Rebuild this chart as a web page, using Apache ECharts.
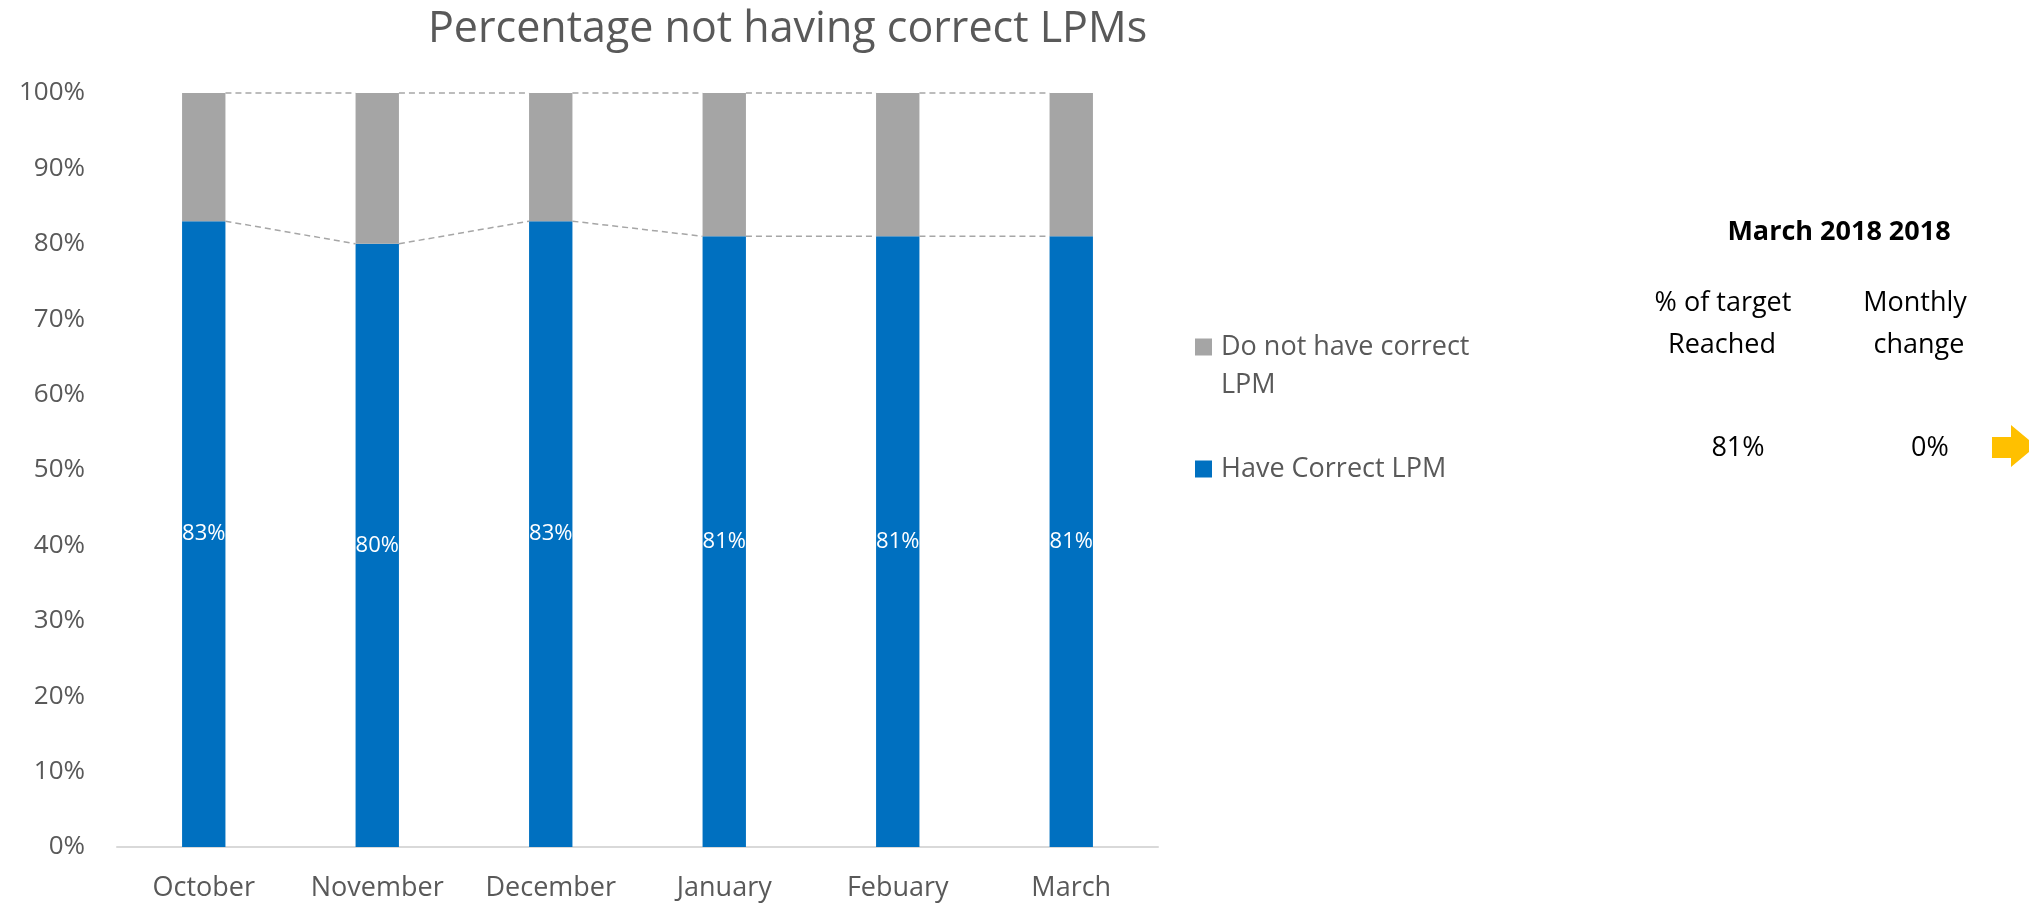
<!DOCTYPE html>
<html style="height: 100%">

<head>
  <meta charset="utf-8">
</head>

<body style="height: 100%; margin: 0; background: #fff">
  <div id="container" style="height: 100%"></div>
  <script type="text/javascript" src="https://cdn.jsdelivr.net/npm/echarts@6/dist/echarts.min.js"></script>
  <script type="text/javascript">
  var dom = document.getElementById("container");
  var myChart = echarts.init(dom);

  // data
  var months = ['October', 'November', 'December', 'January', 'Febuary', 'March'];
  var haveCorrect = [83, 80, 83, 81, 81, 81];
  var notCorrect = [17, 20, 17, 19, 19, 19];
  var yTicks = [0, 10, 20, 30, 40, 50, 60, 70, 80, 90, 100];
  var summaryTitle = 'March 2018 2018';

  var FONT = '"Open Sans", sans-serif';
  var GREY_TEXT = '#595959';

  // series lines between bar tops (Excel style)
  var seriesLines = [];
  for (var i = 0; i < months.length - 1; i++) {
    seriesLines.push([
      i,
      haveCorrect[i], haveCorrect[i + 1],
      haveCorrect[i] + notCorrect[i], haveCorrect[i + 1] + notCorrect[i + 1]
    ]);
  }

  var last = haveCorrect[haveCorrect.length - 1];
  var change = last - haveCorrect[haveCorrect.length - 2];

  function renderSeriesLines(params, api) {
    var i = api.value(0);
    var half = api.size([1, 0])[0] * 0.125;
    var children = [];
    [[1, 2], [3, 4]].forEach(function (pair) {
      var a = api.coord([i, api.value(pair[0])]);
      var b = api.coord([i + 1, api.value(pair[1])]);
      children.push({
        type: 'line',
        shape: { x1: a[0] + half, y1: a[1], x2: b[0] - half, y2: b[1] },
        style: { stroke: '#A6A6A6', lineWidth: 1.5, lineDash: [6, 4] }
      });
    });
    return { type: 'group', children: children };
  }

  function centerText(x, y, text, opts) {
    return {
      type: 'text',
      x: x,
      y: y,
      style: Object.assign({
        text: text,
        fontFamily: FONT,
        fontSize: 27,
        fill: '#000',
        textAlign: 'center',
        textVerticalAlign: 'middle'
      }, opts || {})
    };
  }

  var option = {
    animation: false,
    title: {
      text: 'Percentage not having correct LPMs',
      left: 428,
      top: 8,
      padding: 0,
      textStyle: {
        fontFamily: FONT,
        fontSize: 43,
        lineHeight: 43,
        fontWeight: 'normal',
        color: GREY_TEXT
      }
    },
    legend: {
      orient: 'vertical',
      left: 1195,
      top: 290,
      padding: 0,
      itemWidth: 17,
      itemHeight: 17,
      itemGap: 46,
      icon: 'rect',
      selectedMode: false,
      textStyle: {
        fontFamily: FONT,
        fontSize: 27,
        lineHeight: 38,
        color: GREY_TEXT,
        padding: [0, 0, 0, 4]
      },
      // wrap the long name like the original; the blank line keeps the marker on the first line
      formatter: function (name) {
        return name === 'Do not have correct LPM' ? '\nDo not have correct\nLPM' : name;
      },
      data: ['Do not have correct LPM', 'Have Correct LPM']
    },
    grid: {
      left: 117,
      right: 871,
      top: 93,
      bottom: 56,
      containLabel: false
    },
    xAxis: {
      type: 'category',
      data: months,
      axisTick: { show: false },
      axisLine: { lineStyle: { color: '#D9D9D9', width: 2 } },
      axisLabel: {
        fontFamily: FONT,
        fontSize: 27,
        lineHeight: 27,
        color: GREY_TEXT,
        margin: 28
      }
    },
    yAxis: {
      type: 'value',
      min: yTicks[0],
      max: yTicks[yTicks.length - 1],
      interval: yTicks[1] - yTicks[0],
      axisLine: { show: false },
      axisTick: { show: false },
      splitLine: { show: false },
      axisLabel: {
        fontFamily: FONT,
        fontSize: 26,
        color: GREY_TEXT,
        margin: 32,
        formatter: '{value}%'
      }
    },
    series: [
      {
        name: 'Have Correct LPM',
        type: 'bar',
        stack: 'total',
        barWidth: '25%',
        data: haveCorrect,
        itemStyle: { color: '#0070C0' },
        label: {
          show: true,
          position: 'inside',
          color: '#fff',
          fontFamily: FONT,
          fontSize: 22,
          formatter: '{c}%'
        }
      },
      {
        name: 'Do not have correct LPM',
        type: 'bar',
        stack: 'total',
        barWidth: '25%',
        data: notCorrect,
        itemStyle: { color: '#A5A5A5' }
      },
      {
        type: 'custom',
        silent: true,
        renderItem: renderSeriesLines,
        encode: { x: 0, y: [1, 2, 3, 4] },
        data: seriesLines,
        z: 3
      }
    ],
    graphic: [
      centerText(1839, 232, summaryTitle, { fontWeight: 'bold' }),
      centerText(1723, 303, '% of target'),
      centerText(1722, 345, 'Reached'),
      centerText(1915, 303, 'Monthly'),
      centerText(1919, 345, 'change'),
      centerText(1738, 448, last + '%'),
      centerText(1930, 448, change + '%'),
      {
        type: 'polygon',
        shape: {
          points: [[1992, 437], [2011, 437], [2011, 425], [2036, 446], [2011, 467], [2011, 458], [1992, 458]]
        },
        style: { fill: '#FFC000' }
      }
    ]
  };

  myChart.setOption(option);
  </script>
</body>

</html>
